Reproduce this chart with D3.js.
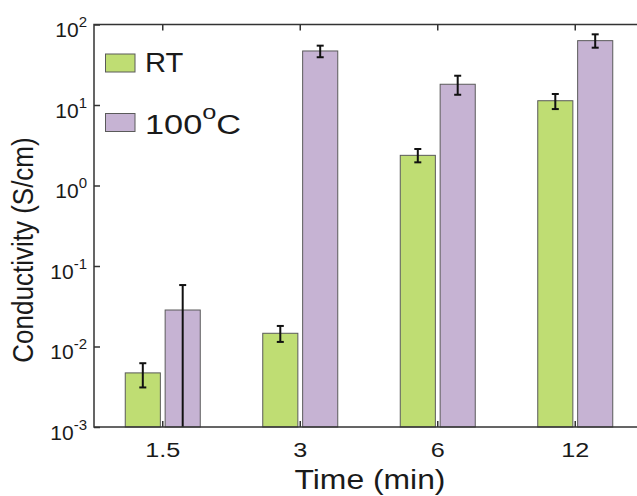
<!DOCTYPE html>
<html>
<head>
<meta charset="utf-8">
<script src="https://cdn.jsdelivr.net/npm/d3@7"></script>
<style>
  html, body { margin: 0; padding: 0; background: #fff; }
  svg { display: block; font-family: "Liberation Sans", Arial, sans-serif; }
</style>
</head>
<body>
<svg id="chart" width="637" height="496"></svg>
<script>
// ---- data ----
const times = ["1.5", "3", "6", "12"];
const seriesNames = ["RT", "100"];
const rtValues  = [0.0047, 0.0146, 2.37, 11.3];
const rtLow     = [0.0031, 0.0114, 1.94, 8.9];
const rtHigh    = [0.0062, 0.0180, 2.84, 13.7];
const hotValues = [0.0284, 46.9, 18.1, 63];
const hotLow    = [0, 39.2, 13.4, 51.5];
const hotHigh   = [0.058, 54.6, 23.1, 75.5];
const yTickValues = [1e-3, 1e-2, 1e-1, 1e0, 1e1, 1e2];
const yTickExps   = ["-3", "-2", "-1", "0", "1", "2"];

const colors = ["#bfdd73", "#c6b3d3"];

// ---- layout ----
const pLeft = 94, pRight = 644, pTop = 24.5, pBottom = 427;
const svg = d3.select("#chart");

const x = d3.scaleBand().domain(times).range([pLeft, pRight]).padding(0);
const groupW = 75;
const xs = d3.scaleBand().domain(seriesNames).range([0, groupW]).paddingInner(0.12).paddingOuter(0);
const y = d3.scaleLog().domain([1e-3, 1e2]).range([pBottom, pTop]);
const yPos = v => (v <= y.domain()[0] ? pBottom : y(v));

const series = [
  { name: "RT", values: rtValues, lo: rtLow, hi: rtHigh, color: colors[0] },
  { name: "100", values: hotValues, lo: hotLow, hi: hotHigh, color: colors[1] }
];

const gx = t => x(t) + (x.bandwidth() - groupW) / 2;

// bars
series.forEach(s => {
  svg.append("g").selectAll("rect").data(times).join("rect")
    .attr("x", (t) => gx(t) + xs(s.name))
    .attr("width", xs.bandwidth())
    .attr("y", (t, i) => y(s.values[i]))
    .attr("height", (t, i) => pBottom - y(s.values[i]))
    .attr("fill", s.color)
    .attr("stroke", "#5a5a5a")
    .attr("stroke-width", 1);
});

// error bars
series.forEach(s => {
  const g = svg.append("g").attr("stroke", "#111").attr("stroke-width", 2);
  times.forEach((t, i) => {
    const cx = gx(t) + xs(s.name) + xs.bandwidth() / 2;
    const y1 = yPos(s.hi[i]), y0 = yPos(s.lo[i]);
    g.append("line").attr("x1", cx).attr("x2", cx).attr("y1", y1).attr("y2", y0);
    g.append("line").attr("x1", cx - 3.5).attr("x2", cx + 3.5).attr("y1", y1).attr("y2", y1);
    if (s.lo[i] > y.domain()[0])
      g.append("line").attr("x1", cx - 3.5).attr("x2", cx + 3.5).attr("y1", y0).attr("y2", y0);
  });
});

// axes
const axisColor = "#333";
const xb = svg.append("g").attr("transform", `translate(0,${pBottom})`)
  .call(d3.axisBottom(x).tickSize(-6).tickPadding(15).tickSizeOuter(0));
const xt = svg.append("g").attr("transform", `translate(0,${pTop})`)
  .call(d3.axisTop(x).tickSize(-6).tickFormat("").tickSizeOuter(0));
const yl = svg.append("g").attr("transform", `translate(${pLeft},0)`)
  .call(d3.axisLeft(y).tickValues(yTickValues).tickSize(-6).tickPadding(7).tickSizeOuter(0));
const yr = svg.append("g").attr("transform", `translate(${pRight},0)`)
  .call(d3.axisRight(y).tickValues(yTickValues).tickSize(-6).tickFormat("").tickSizeOuter(0));

[xb, xt, yl, yr].forEach(g => {
  g.select(".domain").remove();
  g.selectAll(".tick line").attr("stroke", axisColor).attr("stroke-width", 1.5);
});

xb.selectAll(".tick text")
  .attr("font-size", 21).attr("fill", "#1a1a1a")
  .attr("font-family", "Liberation Sans, Arial, sans-serif")
  .each(function () {
    const t = d3.select(this);
    const yv = +t.attr("y");
    t.attr("y", 0).attr("transform", `translate(0,${yv}) scale(1.2,1)`);
  });

yl.selectAll(".tick text").each(function (d, i) {
  const t = d3.select(this);
  t.text(null).attr("dy", 12).attr("x", -7).attr("font-size", 21)
    .attr("fill", "#1a1a1a").attr("font-family", "Liberation Sans, Arial, sans-serif");
  t.append("tspan").text("10");
  t.append("tspan").attr("font-size", 15).attr("dy", -10).text(yTickExps[i]);
});

// frame
svg.append("rect").attr("x", pLeft).attr("y", pTop)
  .attr("width", pRight - pLeft).attr("height", pBottom - pTop)
  .attr("fill", "none").attr("stroke", axisColor).attr("stroke-width", 1.5);

// axis titles
svg.append("text")
  .attr("transform", "translate(33,250) scale(1.13,1) rotate(-90)")
  .attr("text-anchor", "middle").attr("font-size", 26).attr("fill", "#1a1a1a")
  .text("Conductivity (S/cm)");

svg.append("text")
  .attr("transform", "translate(370,489) scale(1.18,1)")
  .attr("text-anchor", "middle").attr("font-size", 27).attr("fill", "#1a1a1a")
  .text("Time (min)");

// legend
const legendY = [54, 113.5];
const legendBase = [72.3, 134.3];
const legendStretch = [1.08, 1.27];
series.forEach((s, i) => {
  svg.append("rect").attr("x", 105.5).attr("y", legendY[i])
    .attr("width", 29.5).attr("height", 18)
    .attr("fill", s.color).attr("stroke", "#5a5a5a").attr("stroke-width", 1);
  const t = svg.append("text")
    .attr("transform", `translate(145,${legendBase[i]}) scale(${legendStretch[i]},1)`)
    .attr("font-size", 27).attr("fill", "#1a1a1a");
  if (i === 0) {
    t.text("RT");
  } else {
    t.append("tspan").text("100");
    t.append("tspan").attr("font-size", 20).attr("dy", -15).text("o");
    t.append("tspan").attr("dy", 15).text("C");
  }
});
</script>
</body>
</html>
